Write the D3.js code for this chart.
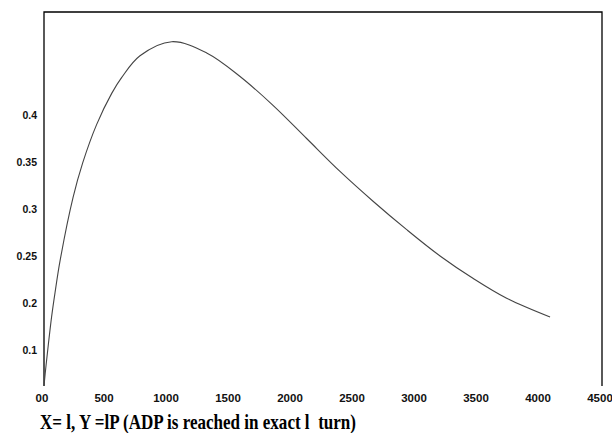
<!DOCTYPE html>
<html>
<head>
<meta charset="utf-8">
<script src="https://cdn.jsdelivr.net/npm/d3@7"></script>
<style>
  body { margin: 0; background: #fff; }
  svg { display: block; }
  .tick text { font-family: "Liberation Sans", Arial, sans-serif; font-weight: bold; fill: #111; }
</style>
</head>
<body>
<svg width="612" height="433"></svg>
<script>
// values
var turnsX = [0, 16, 36, 62, 89, 129, 234, 312, 425, 546, 627, 774, 1030, 1312, 1581, 1849, 2118, 2387, 2656, 2925, 3194, 3462, 3731, 4081];
var probY = [0.112, 0.133, 0.157, 0.186, 0.211, 0.2445, 0.312, 0.349, 0.390, 0.423, 0.440, 0.463, 0.478, 0.466, 0.441, 0.410, 0.375, 0.340, 0.308, 0.278, 0.250, 0.226, 0.205, 0.185];

var xTicks = [0, 500, 1000, 1500, 2000, 2500, 3000, 3500, 4000, 4500];
var xTickLabels = ["00", "500", "1000", "1500", "2000", "2500", "3000", "3500", "4000", "4500"];
// tick labels as printed in the original (last one reads 0.1)
var yTicks = [0.4, 0.35, 0.3, 0.25, 0.2, 0.15];
var yTickLabels = ["0.4", "0.35", "0.3", "0.25", "0.2", "0.1"];

var captionText = "X= l, Y =lP (ADP is reached in exact l  turn)";

var svg = d3.select("svg"),
  margin = { top: 12, right: 10, bottom: 47, left: 44 },
  plotLeft = margin.left,
  plotRight = 612 - margin.right,
  plotTop = margin.top,
  plotBottom = 433 - margin.bottom;

var x = d3.scaleLinear().domain([0, 4500]).range([plotLeft, plotRight]);
var y = d3.scaleLinear().domain([0.15, 0.4]).range([350, 115]);

// frame: left, top and right sides only
svg.append("path")
  .attr("d", "M" + plotLeft + "," + plotBottom + "V" + plotTop + "H" + plotRight + "V" + plotBottom)
  .attr("fill", "none")
  .attr("stroke", "#000")
  .attr("stroke-width", 1.3);

// y axis labels
var gy = svg.append("g")
  .attr("transform", "translate(" + (plotLeft - 7) + ",0)")
  .call(d3.axisLeft(y).tickValues(yTicks).tickSize(0).tickPadding(0)
    .tickFormat(function (d, i) { return yTickLabels[i]; }));
gy.select(".domain").remove();
gy.selectAll("text").style("font-size", "10.5px");

// x axis labels
var gx = svg.append("g")
  .attr("transform", "translate(-2.5," + (plotBottom + 8) + ")")
  .call(d3.axisBottom(x).tickValues(xTicks).tickSize(0).tickPadding(0)
    .tickFormat(function (d, i) { return xTickLabels[i]; }));
gx.select(".domain").remove();
gx.selectAll("text").style("font-size", "11.5px");

// the curve
var line = d3.line()
  .x(function (d, i) { return x(turnsX[i]); })
  .y(function (d) { return y(d); })
  .curve(d3.curveCatmullRom.alpha(0.5));

svg.append("path")
  .datum(probY)
  .attr("d", line)
  .attr("fill", "none")
  .attr("stroke", "#444")
  .attr("stroke-width", 1.1);

// caption
svg.append("text")
  .attr("x", 40)
  .attr("y", 429)
  .attr("xml:space", "preserve")
  .attr("font-family", "'Liberation Serif', Tinos, 'Times New Roman', Times, 'Nimbus Roman', FreeSerif, 'DejaVu Serif', serif")
  .attr("font-weight", "bold")
  .attr("font-size", 21)
  .attr("textLength", 316)
  .attr("lengthAdjust", "spacingAndGlyphs")
  .style("white-space", "pre")
  .text(captionText);
</script>
</body>
</html>
